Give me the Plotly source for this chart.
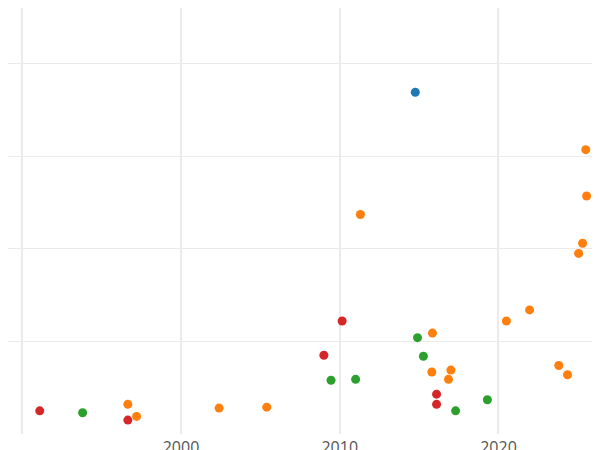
import plotly.graph_objects as go

blue_x = [2014.76]; blue_y = [3.69]
orange_x = [2025.5, 2025.55, 2025.3, 2025.05, 2011.3, 2021.96, 2020.5, 2015.84, 2023.8, 2024.35, 2015.8, 2017.0, 2016.85, 1996.65, 1997.2, 2002.4, 2005.4]
orange_y = [3.07, 2.57, 2.06, 1.95, 2.37, 1.34, 1.22, 1.09, 0.74, 0.64, 0.67, 0.69, 0.59, 0.32, 0.19, 0.28, 0.29]
red_x = [1991.1, 1996.65, 2010.15, 2009.0, 2016.1, 2016.1]
red_y = [0.25, 0.15, 1.22, 0.85, 0.43, 0.32]
green_x = [1993.8, 2009.45, 2011.0, 2014.9, 2015.27, 2017.3, 2019.3]
green_y = [0.23, 0.58, 0.59, 1.04, 0.84, 0.25, 0.37]

fig = go.Figure()
for xs, ys, c in [(blue_x, blue_y, "#1f77b4"), (orange_x, orange_y, "#ff7f0e"),
                  (red_x, red_y, "#d62728"), (green_x, green_y, "#2ca02c")]:
    fig.add_trace(go.Scatter(x=xs, y=ys, mode="markers", marker=dict(color=c, size=9), showlegend=False))

fig.update_layout(width=600, height=450, plot_bgcolor="white", paper_bgcolor="white",
                  margin=dict(l=0, r=0, t=0, b=24, pad=0), font=dict(family="Open Sans", size=16, color="#555"))
fig.update_xaxes(range=[1989.1, 2026.9], tickvals=[1990, 2000, 2010, 2020], ticktext=["", "2000", "2010", "2020"],
                 showgrid=True, gridcolor="#ebebeb", gridwidth=2, zeroline=False, showline=False,
                 automargin=False, ticklabelstandoff=2)
fig.update_yaxes(range=[0, 4.6], dtick=1, showticklabels=False, showgrid=True, gridcolor="#ebebeb",
                 zeroline=False, showline=False, automargin=False)
fig.write_html("out.html")
